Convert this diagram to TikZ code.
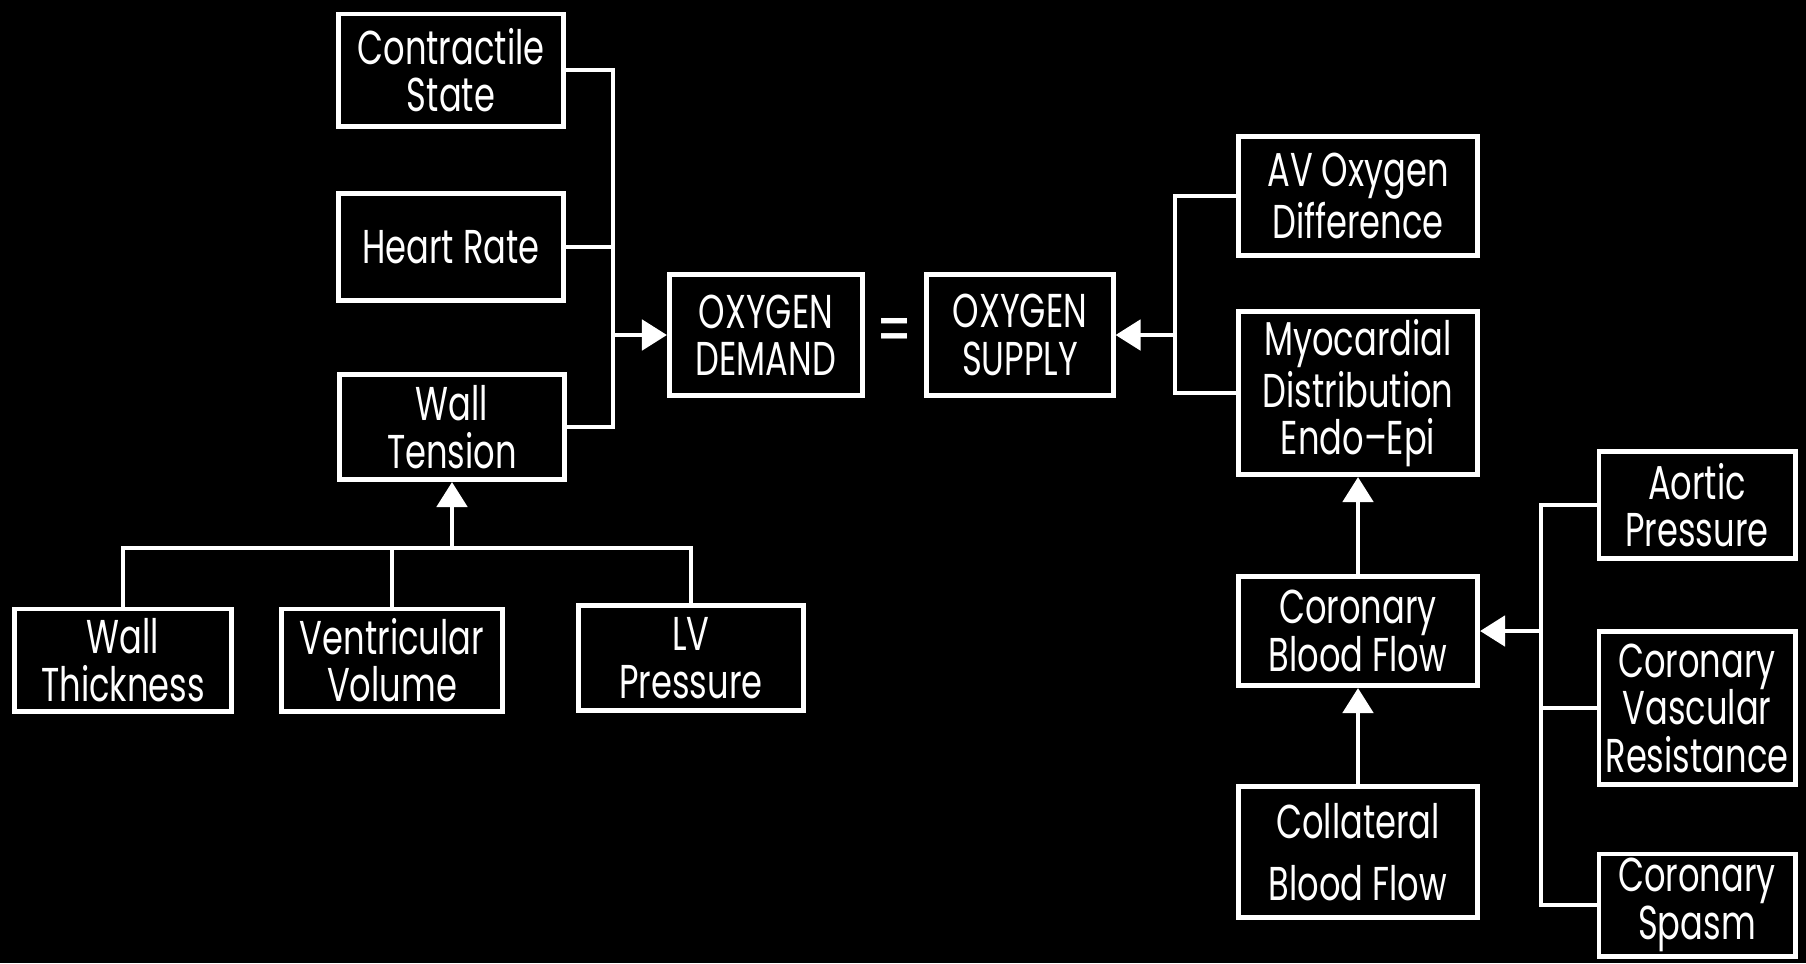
\documentclass[tikz,border=0pt]{standalone}
\usepackage{fontspec}
\setmainfont{Poppins}[FakeStretch=0.71]
\usetikzlibrary{arrows.meta,positioning,calc}

\begin{document}
\begin{tikzpicture}[x=0.01cm,y=-0.01cm,line width=1.4pt,color=white,
    blk/.style={draw,text=white,align=center,inner sep=0pt,
        font=\fontsize{13.5}{13.5}\selectfont},
    dims/.style 2 args={minimum width=#1cm,minimum height=#2cm},
    tri/.style={-{Triangle[width=0.3cm,length=0.25cm]}}]
   \fill[black] (0,0) rectangle (1806,963);

   % oxygen demand side
   \node[blk,dims={2.24}{1.12}] (cs) at (451,70) {Contractile\\State};
   \node[blk,dims={2.24}{1.07}] (hr) at (451,247) {Heart Rate};
   \node[blk,dims={2.25}{1.05}] (wt) at (452,427) {Wall\\Tension};
   \node[blk,dims={1.93}{1.21}] (dem) at (766,335) {OXYGEN\\DEMAND};
   \node[blk,dims={2.16}{1.02}] (wth) at (123,660) {Wall\\Thickness};
   \node[blk,dims={2.21}{1.02}] (vv) at (392,660) {Ventricular\\Volume};
   \node[blk,dims={2.24}{1.05}] (lvp) at (691,658) {LV\\Pressure};

   \node[text=white,font=\fontsize{20}{20}\selectfont] (eq) at (895,336) {=};

   % oxygen supply side
   \node[blk,dims={1.86}{1.21}] (sup) at (1020,335) {OXYGEN\\SUPPLY};
   \node[blk,dims={2.39}{1.19}] (av) at (1358,196) {AV Oxygen\\Difference};
   \node[blk,dims={2.39}{1.63}] (md) at (1358,393) {Myocardial\\Distribution\\Endo--Epi};
   \node[blk,dims={2.39}{1.09}] (cbf) at (1358,631) {Coronary\\Blood Flow};
   \node[blk,dims={2.39}{1.31}] (col) at (1358,852) {Collateral\\[4pt]Blood Flow};
   \node[blk,dims={1.96}{1.07}] (ap) at (1697,505) {Aortic\\Pressure};
   \node[blk,dims={1.96}{1.53}] (cvr) at (1697,708) {Coronary\\Vascular\\Resistance};
   \node[blk,dims={1.96}{1.02}] (spm) at (1697,905) {Coronary\\Spasm};

   \coordinate (lbus) at (613,335);
   \coordinate (bbus) at (452,548);
   \coordinate (rbus) at (1175,335);
   \coordinate (cbus) at (1541,631);

   \draw (cs.east) -- (cs.east -| lbus) -- (wt.east -| lbus) -- (wt.east);
   \draw (hr.east) -- (hr.east -| lbus);
   \draw (wth.north) -- (wth.north |- bbus) -- (lvp.north |- bbus) -- (lvp.north);
   \draw (vv.north) -- (vv.north |- bbus);
   \draw (av.west) -- (av.west -| rbus) -- (md.west -| rbus) -- (md.west);
   \draw (ap.west) -- (ap.west -| cbus) -- (spm.west -| cbus) -- (spm.west);
   \draw (cvr.west) -- (cvr.west -| cbus);

   \path[tri]
    (lbus) edge (dem)
    (bbus) edge (wt)
    (rbus) edge (sup)
    (cbf) edge (md)
    (col) edge (cbf)
    (cbus) edge (cbf);
\end{tikzpicture}
\end{document}
